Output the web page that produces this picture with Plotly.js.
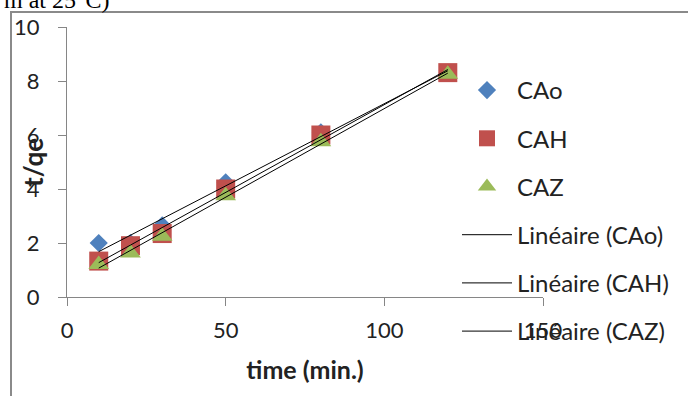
<!DOCTYPE html>
<html>
<head>
<meta charset="utf-8">
<script src="https://cdn.plot.ly/plotly-3.0.1.min.js"></script>
<style>html,body{margin:0;padding:0;background:#fff}#chart{width:688px;height:396px}</style>
</head>
<body>
<div id="chart"></div>
<script>
var time = [10, 20, 30, 50, 80, 120];
var CAo = [2.0, 2.0, 2.65, 4.25, 6.1, 8.3];
var CAH = [1.33, 1.9, 2.35, 4.0, 6.0, 8.31];
var CAZ = [1.2, 1.63, 2.25, 3.75, 5.75, 8.25];
var seriesNames = ['CAo', 'CAH', 'CAZ'];
var xTicks = [0, 50, 100, 150];
var yTicks = [0, 2, 4, 6, 8, 10];

function linfit(x, y) {
  var n = x.length, mx = 0, my = 0;
  for (var i = 0; i < n; i++) { mx += x[i]; my += y[i]; }
  mx /= n; my /= n;
  var sxy = 0, sxx = 0;
  for (var j = 0; j < n; j++) { sxy += (x[j] - mx) * (y[j] - my); sxx += (x[j] - mx) * (x[j] - mx); }
  var b = sxy / sxx, a = my - b * mx;
  return x.map(function (v) { return a + b * v; });
}

var FONT = 'Lato, "Open Sans", sans-serif';
var data = [CAo, CAH, CAZ];
var colors = ['#4F81BD', '#C0504D', '#9BBB59'];
var symbols = ['diamond', 'square', 'triangle-up'];
var sizes = [14, 19, 18];
var traces = [];
for (var k = 0; k < 3; k++) {
  traces.push({
    x: time, y: data[k], name: seriesNames[k], type: 'scatter', mode: 'markers',
    legendgroup: 'p' + k,
    marker: {symbol: symbols[k], color: colors[k], size: sizes[k], line: {width: 0}}
  });
}
for (var m = 0; m < 3; m++) {
  traces.push({
    x: time, y: linfit(time, data[m]), name: 'Linéaire (' + seriesNames[m] + ')',
    type: 'scatter', mode: 'lines', legendgroup: 'l' + m,
    line: {color: '#000000', width: 1}
  });
}

var L = 67, R = 543, T = 27, B = 297;
function px(x) { return (x - L) / (R - L); }
function py(y) { return (B - y) / (B - T); }

var layout = {
  width: 688, height: 396,
  margin: {l: L, r: 688 - R, t: T, b: 396 - B},
  paper_bgcolor: '#ffffff', plot_bgcolor: '#ffffff',
  font: {family: FONT, size: 22, color: '#222222'},
  showlegend: true,
  legend: {
    x: px(457), xanchor: 'left', y: py(68), yanchor: 'top',
    traceorder: 'grouped', tracegroupgap: 14, itemwidth: 50, maxheight: 390,
    font: {family: FONT, size: 24, color: '#222222'}, bgcolor: 'rgba(0,0,0,0)'
  },
  xaxis: {
    range: [0, 150], tickvals: xTicks, ticktext: xTicks.map(String),
    showgrid: false, zeroline: false, showline: true, linecolor: '#868686', linewidth: 1,
    ticks: 'outside', ticklen: 8, tickcolor: '#868686', tickwidth: 1,
    tickfont: {family: FONT, size: 22, color: '#222222'},
    ticklabelstandoff: 6,
    title: {text: '<b>time (min.)</b>', font: {family: FONT, size: 25, color: '#222222'}, standoff: 19},
    fixedrange: true
  },
  yaxis: {
    range: [0, 10], tickvals: yTicks, ticktext: yTicks.map(String),
    showgrid: false, zeroline: false, showline: true, linecolor: '#868686', linewidth: 1,
    ticks: 'outside', ticklen: 8, tickcolor: '#868686', tickwidth: 1,
    tickfont: {family: FONT, size: 22, color: '#222222'},
    ticklabelstandoff: 14,
    fixedrange: true
  },
  annotations: [
    {text: '<b>t/qe</b>', xref: 'paper', yref: 'paper', x: px(33), y: py(163), xanchor: 'center', yanchor: 'middle',
     textangle: -90, showarrow: false, font: {family: FONT, size: 26, color: '#222222'}},
    {text: 'm at 25°C)', xref: 'paper', yref: 'paper', x: px(112), y: py(15), xanchor: 'right', yanchor: 'bottom',
     showarrow: false, font: {family: '"Liberation Serif", "Times New Roman", serif', size: 24, color: '#000000'}}
  ],
  shapes: [
    {type: 'rect', xref: 'paper', yref: 'paper', x0: px(11), x1: px(700), y0: py(12), y1: py(420),
     line: {color: '#8a8a8a', width: 2}, fillcolor: 'rgba(0,0,0,0)', layer: 'below'}
  ]
};

Plotly.newPlot('chart', traces, layout, {displayModeBar: false, staticPlot: true});
</script>
</body>
</html>
